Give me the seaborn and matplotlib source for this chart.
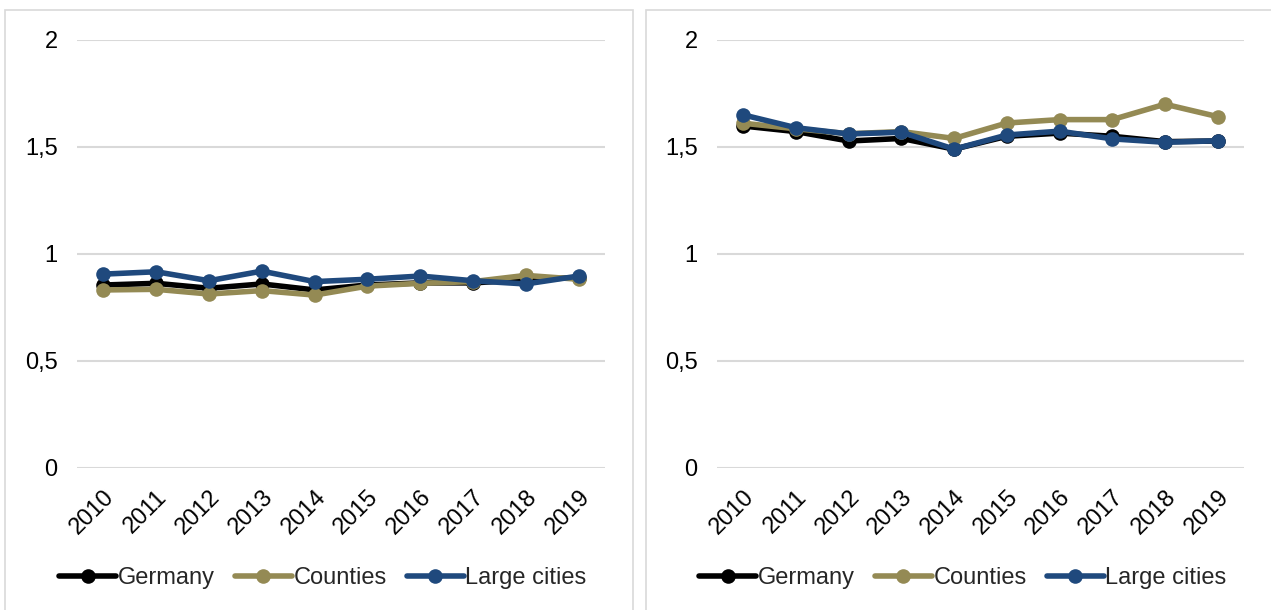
import matplotlib
matplotlib.use("Agg")
import matplotlib.pyplot as plt
from matplotlib.patches import Rectangle
from matplotlib.ticker import FuncFormatter
import seaborn as sns
import pandas as pd

years = [2010, 2011, 2012, 2013, 2014, 2015, 2016, 2017, 2018, 2019]
series_names = ["Germany", "Counties", "Large cities"]

left_germany = [0.855, 0.863, 0.840, 0.860, 0.832, 0.855, 0.865, 0.865, 0.880, 0.890]
left_counties = [0.832, 0.835, 0.813, 0.829, 0.808, 0.850, 0.863, 0.871, 0.900, 0.882]
left_cities = [0.906, 0.917, 0.875, 0.920, 0.871, 0.882, 0.897, 0.875, 0.860, 0.897]

right_germany = [1.598, 1.572, 1.528, 1.540, 1.490, 1.550, 1.565, 1.550, 1.525, 1.528]
right_counties = [1.611, 1.585, 1.562, 1.572, 1.540, 1.612, 1.628, 1.628, 1.700, 1.642]
right_cities = [1.650, 1.590, 1.561, 1.569, 1.490, 1.556, 1.574, 1.538, 1.522, 1.529]

colors = {"Germany": "#000000", "Counties": "#948A54", "Large cities": "#1F497D"}

def make_df(g, c, l):
    rows = []
    for name, vals in zip(series_names, [g, c, l]):
        for y, v in zip(years, vals):
            rows.append({"year": y, "value": v, "series": name})
    return pd.DataFrame(rows)

sns.set_theme(style="white")
plt.rcParams["font.family"] = ["Liberation Sans", "DejaVu Sans"]

FS = 17
fig = plt.figure(figsize=(12.71, 6.10), dpi=100)
W, H = 1271, 610

# panel boxes
for x0, x1 in [(5, 633), (646, 1290)]:
    fig.patches.append(Rectangle((x0 / W, -0.1), (x1 - x0) / W, (H - 10) / H + 0.1,
                                 transform=fig.transFigure, fill=False,
                                 edgecolor="#D9D9D9", linewidth=1.2))

axes_px = [(77, 605), (717, 1244)]
datasets = [make_df(left_germany, left_counties, left_cities),
            make_df(right_germany, right_counties, right_cities)]
box_centers = [323, 963]

for (x0, x1), df, bc in zip(axes_px, datasets, box_centers):
    ax = fig.add_axes([x0 / W, (H - 468) / H, (x1 - x0) / W, (468 - 40) / H])
    sns.lineplot(data=df, x="year", y="value", hue="series", hue_order=series_names,
                 palette=colors, marker="o", markersize=10.5, markeredgewidth=0,
                 linewidth=4, ax=ax, legend=False)
    ax.set_xlim(2009.5, 2019.5)
    ax.set_ylim(0, 2)
    ax.set_yticks([0, 0.5, 1, 1.5, 2])
    ax.yaxis.set_major_formatter(FuncFormatter(lambda v, p: ("%g" % v).replace(".", ",")))
    ax.set_xticks(years)
    ax.set_xticklabels([str(y) for y in years], rotation=45, ha="right", va="top",
                       rotation_mode="anchor", fontsize=FS)
    ax.tick_params(axis="y", labelsize=FS, pad=14, length=0)
    ax.tick_params(axis="x", length=0, pad=13)
    ax.grid(axis="y", color="#D9D9D9", linewidth=1.5)
    ax.set_axisbelow(True)
    for s in ax.spines.values():
        s.set_visible(False)
    ax.set_xlabel("")
    ax.set_ylabel("")
    for lab in ax.get_xticklabels() + ax.get_yticklabels():
        lab.set_color("#000000")

    handles = [plt.Line2D([0], [0], color=colors[n], linewidth=4, marker="o",
                          markersize=10.5, markeredgewidth=0) for n in series_names]
    fig.legend(handles, series_names, loc="center", bbox_to_anchor=(bc / W, (H - 578) / H),
               ncol=3, frameon=False, fontsize=FS, handlelength=2.4,
               handletextpad=0.08, columnspacing=0.85, borderpad=0)

fig.savefig("out.png", dpi=100, facecolor="white")
